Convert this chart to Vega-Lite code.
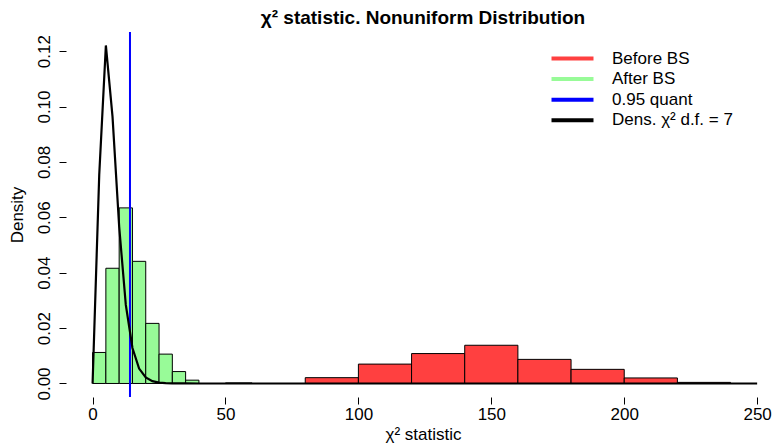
{
  "$schema": "https://vega.github.io/schema/vega-lite/v6.json",
  "width": 714,
  "height": 365,
  "autosize": {"type": "none"},
  "padding": {"left": 66, "top": 32, "right": 0, "bottom": 51},
  "background": "white",
  "config": {
    "font": "Liberation Sans",
    "view": {"stroke": null},
    "axis": {"grid": false, "domain": false, "tickColor": "black", "tickSize": 7, "labelColor": "black", "labelFontSize": 17, "titleColor": "black", "titleFontSize": 17, "titleFontWeight": "normal", "labelFlush": false, "labelOverlap": false}
  },
  "title": {"text": "χ² statistic. Nonuniform Distribution", "fontSize": 19, "fontWeight": "bold", "anchor": "middle", "offset": 3, "color": "black"},
  "datasets": {
    "bars": [
      {"series": "Before BS", "x0": 80, "x1": 100, "density": 0.0021},
      {"series": "Before BS", "x0": 100, "x1": 120, "density": 0.0070},
      {"series": "Before BS", "x0": 120, "x1": 140, "density": 0.0108},
      {"series": "Before BS", "x0": 140, "x1": 160, "density": 0.0138},
      {"series": "Before BS", "x0": 160, "x1": 180, "density": 0.0087},
      {"series": "Before BS", "x0": 180, "x1": 200, "density": 0.0051},
      {"series": "Before BS", "x0": 200, "x1": 220, "density": 0.0020},
      {"series": "Before BS", "x0": 220, "x1": 240, "density": 0.0004},
      {"series": "After BS", "x0": 0, "x1": 5, "density": 0.0112},
      {"series": "After BS", "x0": 5, "x1": 10, "density": 0.0416},
      {"series": "After BS", "x0": 10, "x1": 15, "density": 0.0634},
      {"series": "After BS", "x0": 15, "x1": 20, "density": 0.0441},
      {"series": "After BS", "x0": 20, "x1": 25, "density": 0.0217},
      {"series": "After BS", "x0": 25, "x1": 30, "density": 0.0106},
      {"series": "After BS", "x0": 30, "x1": 35, "density": 0.0043},
      {"series": "After BS", "x0": 35, "x1": 40, "density": 0.0012},
      {"series": "After BS", "x0": 50, "x1": 55, "density": 0.0002},
      {"series": "After BS", "x0": 55, "x1": 60, "density": 0.0002}
    ],
    "curve": [
      {"x": 0, "density": 0},
      {"x": 2.5, "density": 0.0753},
      {"x": 5, "density": 0.12204},
      {"x": 7.5, "density": 0.09635},
      {"x": 10, "density": 0.05667},
      {"x": 12.5, "density": 0.02836},
      {"x": 15, "density": 0.012818},
      {"x": 17.5, "density": 0.005399},
      {"x": 20, "density": 0.00216},
      {"x": 22.5, "density": 0.000831},
      {"x": 25, "density": 0.00031},
      {"x": 27.5, "density": 0.000113},
      {"x": 30, "density": 0.00004},
      {"x": 32.5, "density": 0.000014},
      {"x": 35, "density": 0.000005},
      {"x": 40, "density": 0},
      {"x": 100, "density": 0},
      {"x": 175, "density": 0},
      {"x": 250, "density": 0}
    ],
    "quant": [{"q": 14.07}]
  },
  "layer": [
    {
      "data": {"name": "bars"},
      "mark": {"type": "rect", "stroke": "black", "strokeWidth": 1},
      "encoding": {
        "x": {"field": "x0", "type": "quantitative",
          "scale": {"domain": [-10, 258.6], "nice": false, "zero": false},
          "axis": {"values": [0, 50, 100, 150, 200, 250], "title": "χ² statistic", "labelPadding": 2, "titlePadding": 4}},
        "x2": {"field": "x1"},
        "y": {"field": "density", "type": "quantitative",
          "scale": {"domain": [-0.00488, 0.1269], "nice": false, "zero": false},
          "axis": {"values": [0, 0.02, 0.04, 0.06, 0.08, 0.1, 0.12], "format": ".2f", "labelAngle": -90, "labelAlign": "center", "labelBaseline": "bottom", "labelPadding": 6, "title": "Density", "titlePadding": 9}},
        "y2": {"datum": 0},
        "fill": {"field": "series", "type": "nominal",
          "scale": {"domain": ["Before BS", "After BS"], "range": ["#FF4040", "#98FB98"]}, "legend": null}
      }
    },
    {
      "data": {"name": "quant"},
      "mark": {"type": "rule", "strokeWidth": 2, "color": "#0000FF"},
      "encoding": {"x": {"field": "q", "type": "quantitative"}}
    },
    {
      "data": {"name": "curve"},
      "mark": {"type": "line", "strokeWidth": 2.2, "color": "black", "clip": true},
      "encoding": {
        "x": {"field": "x", "type": "quantitative"},
        "y": {"field": "density", "type": "quantitative"},
        "stroke": {"datum": "Dens. χ² d.f. = 7", "type": "nominal",
          "scale": {"domain": ["Before BS", "After BS", "0.95 quant", "Dens. χ² d.f. = 7"], "range": ["#FF4040", "#98FB98", "#0000FF", "#000000"]},
          "legend": {"title": null, "orient": "none", "legendX": 496, "legendY": 16, "symbolType": "M-2.47,0H2.47", "symbolSize": 289, "symbolStrokeWidth": 4, "labelFontSize": 17, "labelColor": "black", "labelOffset": 29, "rowPadding": 1.6, "symbolOpacity": 1}}
      }
    },
    {
      "mark": {"type": "rule", "color": "black", "strokeWidth": 1},
      "encoding": {"x": {"datum": 0}, "x2": {"datum": 250}, "y": {"datum": -0.00488}}
    },
    {
      "mark": {"type": "rule", "color": "black", "strokeWidth": 1},
      "encoding": {"x": {"datum": -10}, "y": {"datum": 0}, "y2": {"datum": 0.12}}
    }
  ]
}
